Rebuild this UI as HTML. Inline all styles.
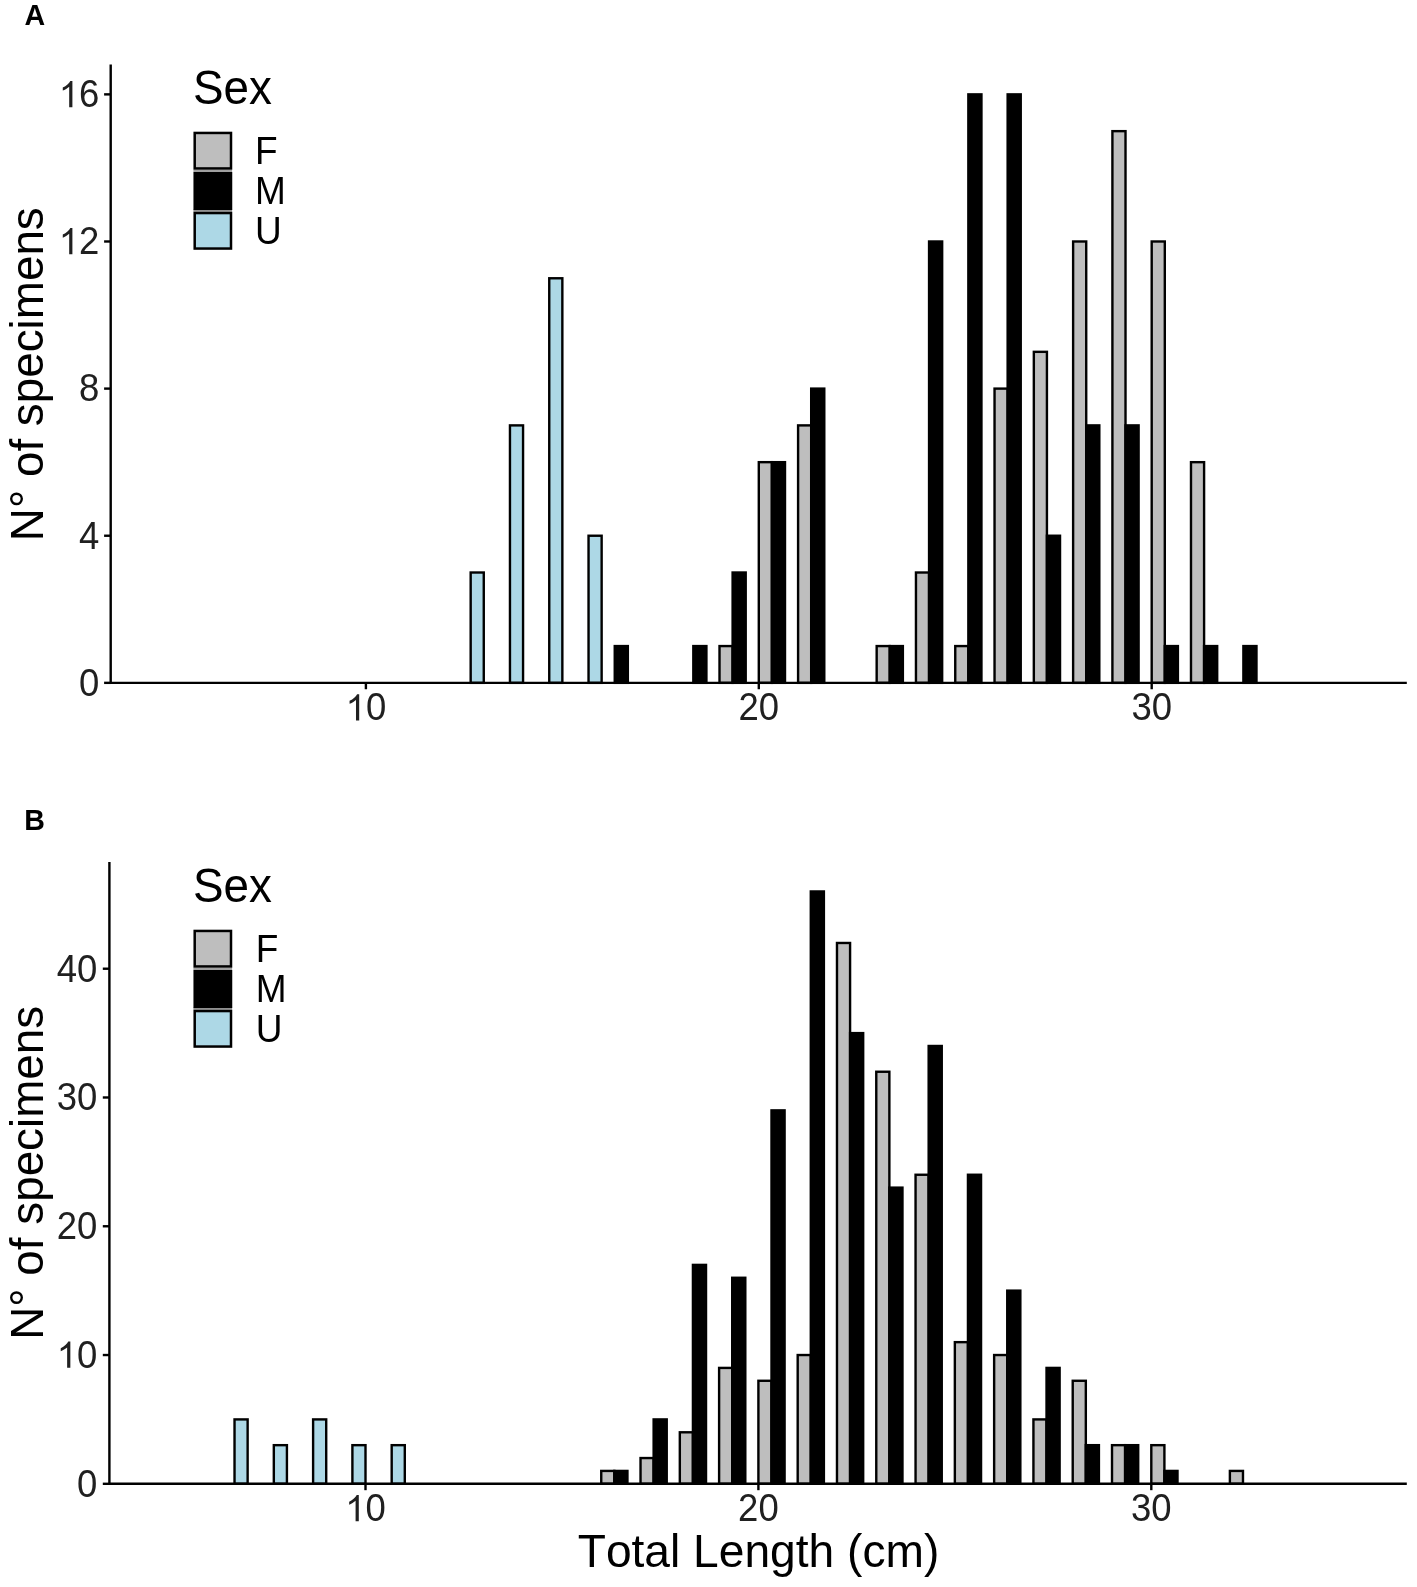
<!DOCTYPE html>
<html lang="en">
<head>
<meta charset="utf-8">
<title>Length frequency distribution by sex</title>
<style>
html,body{margin:0;padding:0;background:#fff;}
body{width:1417px;height:1587px;overflow:hidden;font-family:"Liberation Sans",sans-serif;}
svg{display:block;will-change:transform;}
svg text{font-kerning:none;}
</style>
</head>
<body>
<svg width="1417" height="1587" viewBox="0 0 1417 1587" font-family="'Liberation Sans', sans-serif" fill="#000">
<rect width="1417" height="1587" fill="#fff"/>
<g id="pA" stroke-linejoin="miter">
<g stroke="#000" stroke-width="2.4">
<rect x="470.67" y="572.51" width="13.1" height="110.34" fill="#add8e6"/>
<rect x="509.96" y="425.39" width="13.1" height="257.46" fill="#add8e6"/>
<rect x="549.25" y="278.27" width="13.1" height="404.58" fill="#add8e6"/>
<rect x="588.54" y="535.73" width="13.1" height="147.12" fill="#add8e6"/>
<rect x="614.74" y="646.07" width="13.1" height="36.78" fill="#000"/>
<rect x="693.32" y="646.07" width="13.1" height="36.78" fill="#000"/>
<rect x="719.51" y="646.07" width="13.1" height="36.78" fill="#bebebe"/>
<rect x="732.61" y="572.51" width="13.1" height="110.34" fill="#000"/>
<rect x="758.8" y="462.17" width="13.1" height="220.68" fill="#bebebe"/>
<rect x="771.9" y="462.17" width="13.1" height="220.68" fill="#000"/>
<rect x="798.09" y="425.39" width="13.1" height="257.46" fill="#bebebe"/>
<rect x="811.19" y="388.61" width="13.1" height="294.24" fill="#000"/>
<rect x="876.67" y="646.07" width="13.1" height="36.78" fill="#bebebe"/>
<rect x="889.77" y="646.07" width="13.1" height="36.78" fill="#000"/>
<rect x="915.96" y="572.51" width="13.1" height="110.34" fill="#bebebe"/>
<rect x="929.06" y="241.49" width="13.1" height="441.36" fill="#000"/>
<rect x="955.25" y="646.07" width="13.1" height="36.78" fill="#bebebe"/>
<rect x="968.35" y="94.37" width="13.1" height="588.48" fill="#000"/>
<rect x="994.54" y="388.61" width="13.1" height="294.24" fill="#bebebe"/>
<rect x="1007.64" y="94.37" width="13.1" height="588.48" fill="#000"/>
<rect x="1033.83" y="351.83" width="13.1" height="331.02" fill="#bebebe"/>
<rect x="1046.93" y="535.73" width="13.1" height="147.12" fill="#000"/>
<rect x="1073.12" y="241.49" width="13.1" height="441.36" fill="#bebebe"/>
<rect x="1086.22" y="425.39" width="13.1" height="257.46" fill="#000"/>
<rect x="1112.41" y="131.15" width="13.1" height="551.7" fill="#bebebe"/>
<rect x="1125.51" y="425.39" width="13.1" height="257.46" fill="#000"/>
<rect x="1151.7" y="241.49" width="13.1" height="441.36" fill="#bebebe"/>
<rect x="1164.8" y="646.07" width="13.1" height="36.78" fill="#000"/>
<rect x="1190.99" y="462.17" width="13.1" height="220.68" fill="#bebebe"/>
<rect x="1204.09" y="646.07" width="13.1" height="36.78" fill="#000"/>
<rect x="1243.38" y="646.07" width="13.1" height="36.78" fill="#000"/>
</g>
<g stroke="#000" stroke-width="2.4" fill="none" stroke-linecap="butt">
<path d="M110.7 64.4 V682.85 H1406.8"/>
<path d="M110.7 682.85 h-6.6"/>
<path d="M110.7 535.73 h-6.6"/>
<path d="M110.7 388.61 h-6.6"/>
<path d="M110.7 241.49 h-6.6"/>
<path d="M110.7 94.37 h-6.6"/>
<path d="M365.9 682.85 v6.4"/>
<path d="M758.8 682.85 v6.4"/>
<path d="M1151.7 682.85 v6.4"/>
</g>
<g font-size="36.5" fill="#202020">
<text transform="translate(79.1 695.65) scale(1 1.045)">0</text>
<text transform="translate(79.1 548.53) scale(1 1.045)">4</text>
<text transform="translate(79.1 401.41) scale(1 1.045)">8</text>
<path transform="translate(58.8 254.29) scale(0.01782 -0.01782)" d="M763 0H583V1147Q518 1085 412.5 1023T223 930V1104Q374 1175 487 1276T647 1472H763Z"/><text transform="translate(79.1 254.29) scale(1 1.045)">2</text>
<path transform="translate(58.8 107.17) scale(0.01782 -0.01782)" d="M763 0H583V1147Q518 1085 412.5 1023T223 930V1104Q374 1175 487 1276T647 1472H763Z"/><text transform="translate(79.1 107.17) scale(1 1.045)">6</text>
<path transform="translate(345.6 720.4) scale(0.01782 -0.01782)" d="M763 0H583V1147Q518 1085 412.5 1023T223 930V1104Q374 1175 487 1276T647 1472H763Z"/><text transform="translate(365.9 720.4) scale(1 1.045)">0</text>
<text transform="translate(738.5 720.4) scale(1 1.045)">2</text><text transform="translate(758.8 720.4) scale(1 1.045)">0</text>
<text transform="translate(1131.4 720.4) scale(1 1.045)">3</text><text transform="translate(1151.7 720.4) scale(1 1.045)">0</text>
</g>
<text font-size="45.8" text-anchor="middle" transform="translate(42.6 374.2) rotate(-90)">N° of specimens</text>
<text font-size="28.6" font-weight="bold" x="24.6" y="25.3">A</text>
<text font-size="45.8" transform="translate(192.9 103.8) scale(1 1.04)">Sex</text>
<rect x="193.4" y="169.65" width="38.7" height="2.4" fill="#a0a0a0"/>
<rect x="193.4" y="209.45" width="38.7" height="2.4" fill="#909090"/>
<rect x="194.7" y="132.95" width="36.3" height="35.5" fill="#bebebe" stroke="#000" stroke-width="2.5"/>
<text font-size="37.0" transform="translate(255 164.4) scale(1 1.05)">F</text>
<rect x="194.7" y="173.25" width="36.3" height="35.5" fill="#000" stroke="#000" stroke-width="2.5"/>
<text font-size="37.0" transform="translate(255 204.2) scale(1 1.05)">M</text>
<rect x="194.7" y="213.05" width="36.3" height="35.5" fill="#add8e6" stroke="#000" stroke-width="2.5"/>
<text font-size="37.0" transform="translate(255 244) scale(1 1.05)">U</text>
</g>
<g id="pB">
<g stroke="#000" stroke-width="2.4">
<rect x="234.53" y="1419.41" width="13.1" height="64.38" fill="#add8e6"/>
<rect x="273.82" y="1445.17" width="13.1" height="38.63" fill="#add8e6"/>
<rect x="313.11" y="1419.41" width="13.1" height="64.38" fill="#add8e6"/>
<rect x="352.4" y="1445.17" width="13.1" height="38.63" fill="#add8e6"/>
<rect x="391.69" y="1445.17" width="13.1" height="38.63" fill="#add8e6"/>
<rect x="601.24" y="1470.92" width="13.1" height="12.88" fill="#bebebe"/>
<rect x="614.34" y="1470.92" width="13.1" height="12.88" fill="#000"/>
<rect x="640.53" y="1458.05" width="13.1" height="25.75" fill="#bebebe"/>
<rect x="653.63" y="1419.41" width="13.1" height="64.38" fill="#000"/>
<rect x="679.82" y="1432.29" width="13.1" height="51.51" fill="#bebebe"/>
<rect x="692.92" y="1264.89" width="13.1" height="218.91" fill="#000"/>
<rect x="719.11" y="1367.91" width="13.1" height="115.89" fill="#bebebe"/>
<rect x="732.21" y="1277.77" width="13.1" height="206.03" fill="#000"/>
<rect x="758.4" y="1380.78" width="13.1" height="103.02" fill="#bebebe"/>
<rect x="771.5" y="1110.37" width="13.1" height="373.43" fill="#000"/>
<rect x="797.69" y="1355.03" width="13.1" height="128.77" fill="#bebebe"/>
<rect x="810.79" y="891.46" width="13.1" height="592.34" fill="#000"/>
<rect x="836.98" y="942.97" width="13.1" height="540.83" fill="#bebebe"/>
<rect x="850.08" y="1033.11" width="13.1" height="450.69" fill="#000"/>
<rect x="876.27" y="1071.74" width="13.1" height="412.06" fill="#bebebe"/>
<rect x="889.37" y="1187.63" width="13.1" height="296.17" fill="#000"/>
<rect x="915.56" y="1174.75" width="13.1" height="309.05" fill="#bebebe"/>
<rect x="928.66" y="1045.98" width="13.1" height="437.82" fill="#000"/>
<rect x="954.85" y="1342.15" width="13.1" height="141.65" fill="#bebebe"/>
<rect x="967.95" y="1174.75" width="13.1" height="309.05" fill="#000"/>
<rect x="994.14" y="1355.03" width="13.1" height="128.77" fill="#bebebe"/>
<rect x="1007.24" y="1290.64" width="13.1" height="193.15" fill="#000"/>
<rect x="1033.43" y="1419.41" width="13.1" height="64.38" fill="#bebebe"/>
<rect x="1046.53" y="1367.91" width="13.1" height="115.89" fill="#000"/>
<rect x="1072.72" y="1380.78" width="13.1" height="103.02" fill="#bebebe"/>
<rect x="1085.82" y="1445.17" width="13.1" height="38.63" fill="#000"/>
<rect x="1112.01" y="1445.17" width="13.1" height="38.63" fill="#bebebe"/>
<rect x="1125.11" y="1445.17" width="13.1" height="38.63" fill="#000"/>
<rect x="1151.3" y="1445.17" width="13.1" height="38.63" fill="#bebebe"/>
<rect x="1164.4" y="1470.92" width="13.1" height="12.88" fill="#000"/>
<rect x="1229.88" y="1470.92" width="13.1" height="12.88" fill="#bebebe"/>
</g>
<g stroke="#000" stroke-width="2.4" fill="none" stroke-linecap="butt">
<path d="M109.4 862 V1483.8 H1406.8"/>
<path d="M109.4 1483.8 h-6.6"/>
<path d="M109.4 1355.03 h-6.6"/>
<path d="M109.4 1226.26 h-6.6"/>
<path d="M109.4 1097.49 h-6.6"/>
<path d="M109.4 968.72 h-6.6"/>
<path d="M365.5 1483.8 v6.4"/>
<path d="M758.4 1483.8 v6.4"/>
<path d="M1151.3 1483.8 v6.4"/>
</g>
<g font-size="36.5" fill="#202020">
<text transform="translate(77.05 1496.6) scale(1 1.045)">0</text>
<path transform="translate(56.75 1367.83) scale(0.01782 -0.01782)" d="M763 0H583V1147Q518 1085 412.5 1023T223 930V1104Q374 1175 487 1276T647 1472H763Z"/><text transform="translate(77.05 1367.83) scale(1 1.045)">0</text>
<text transform="translate(56.75 1239.06) scale(1 1.045)">2</text><text transform="translate(77.05 1239.06) scale(1 1.045)">0</text>
<text transform="translate(56.75 1110.29) scale(1 1.045)">3</text><text transform="translate(77.05 1110.29) scale(1 1.045)">0</text>
<text transform="translate(56.75 981.52) scale(1 1.045)">4</text><text transform="translate(77.05 981.52) scale(1 1.045)">0</text>
<path transform="translate(345.2 1521.3) scale(0.01782 -0.01782)" d="M763 0H583V1147Q518 1085 412.5 1023T223 930V1104Q374 1175 487 1276T647 1472H763Z"/><text transform="translate(365.5 1521.3) scale(1 1.045)">0</text>
<text transform="translate(738.1 1521.3) scale(1 1.045)">2</text><text transform="translate(758.4 1521.3) scale(1 1.045)">0</text>
<text transform="translate(1131 1521.3) scale(1 1.045)">3</text><text transform="translate(1151.3 1521.3) scale(1 1.045)">0</text>
</g>
<text font-size="45.8" text-anchor="middle" transform="translate(42.6 1172.8) rotate(-90)">N° of specimens</text>
<text font-size="28.6" font-weight="bold" x="24.2" y="829.6">B</text>
<text font-size="45.8" transform="translate(192.9 901.8) scale(1 1.04)">Sex</text>
<rect x="193.4" y="967.65" width="38.7" height="2.4" fill="#a0a0a0"/>
<rect x="193.4" y="1007.45" width="38.7" height="2.4" fill="#909090"/>
<rect x="194.7" y="930.95" width="36.3" height="35.5" fill="#bebebe" stroke="#000" stroke-width="2.5"/>
<text font-size="37.0" transform="translate(255.7 962.4) scale(1 1.05)">F</text>
<rect x="194.7" y="971.25" width="36.3" height="35.5" fill="#000" stroke="#000" stroke-width="2.5"/>
<text font-size="37.0" transform="translate(255.7 1002.2) scale(1 1.05)">M</text>
<rect x="194.7" y="1011.05" width="36.3" height="35.5" fill="#add8e6" stroke="#000" stroke-width="2.5"/>
<text font-size="37.0" transform="translate(255.7 1042) scale(1 1.05)">U</text>
</g>
<text font-size="46.15" text-anchor="middle" x="758.5" y="1566.9">Total Length (cm)</text>
</svg>
</body>
</html>
